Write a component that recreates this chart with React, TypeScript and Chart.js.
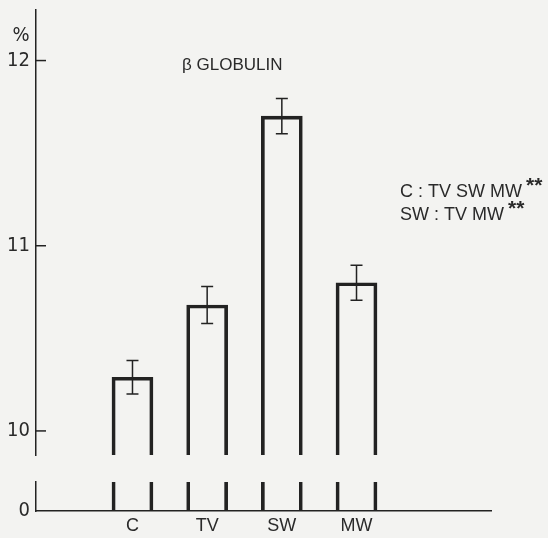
import React, { useEffect, useRef } from 'react';
import { Chart, registerables } from 'chart.js';

Chart.register(...registerables);

// ---- data ----
const CATEGORIES = ['C', 'TV', 'SW', 'MW'];
const MEANS = [10.29, 10.68, 11.7, 10.8];
const ERRORS = [0.09, 0.1, 0.095, 0.095];
const UPPER_TICKS = [10, 11, 12];
const LOWER_TICKS = [0];
const TITLE = 'β GLOBULIN';
const Y_UNIT = '%';
const NOTE_LINES = ['C : TV SW MW', 'SW : TV MW'];
const NOTE_MARKS = ['**', '**'];

// ---- scale ranges (broken axis) ----
const UPPER_MIN = 9.87;
const UPPER_MAX = 12.273;
const LOWER_MIN = 0;
const LOWER_MAX = 0.1566;
const X_MIN = -1.292;
const X_MAX = 4.801;

const INK = '#222222';
const TEXT = '#2a2a2a';
const BG = '#f3f3f1';
const NARROW = "'Liberation Sans Narrow', 'DejaVu Sans Condensed', 'Liberation Sans', sans-serif";
const SANS = "'Liberation Sans', Arial, sans-serif";

const errorBarPlugin = {
  id: 'errorBars',
  afterDatasetsDraw(chart: any) {
    const meta = chart.getDatasetMeta(0);
    const ys = chart.scales.yUp;
    const ctx = chart.ctx;
    ctx.save();
    ctx.strokeStyle = INK;
    ctx.lineWidth = 1.5;
    MEANS.forEach((m, i) => {
      const el = meta.data[i];
      if (!el) return;
      const x = el.x;
      const yt = ys.getPixelForValue(m + ERRORS[i]);
      const yb = ys.getPixelForValue(m - ERRORS[i]);
      ctx.beginPath();
      ctx.moveTo(x, yt);
      ctx.lineTo(x, yb);
      ctx.moveTo(x - 6, yt);
      ctx.lineTo(x + 6, yt);
      ctx.moveTo(x - 6, yb);
      ctx.lineTo(x + 6, yb);
      ctx.stroke();
    });
    ctx.restore();
  },
};

const decorPlugin = {
  id: 'decor',
  afterDraw(chart: any) {
    const ctx = chart.ctx;
    const ys = chart.scales.yUp;
    const left = chart.chartArea.left;
    ctx.save();
    // inward tick marks on the upper axis
    ctx.strokeStyle = INK;
    ctx.lineWidth = 1.5;
    UPPER_TICKS.forEach((t) => {
      const y = ys.getPixelForValue(t);
      ctx.beginPath();
      ctx.moveTo(left, y);
      ctx.lineTo(left + 10, y);
      ctx.stroke();
    });
    ctx.fillStyle = TEXT;
    // unit label
    ctx.font = `20px ${NARROW}`;
    ctx.textAlign = 'center';
    ctx.textBaseline = 'middle';
    ctx.fillText(Y_UNIT, 21, 36);
    // title
    ctx.font = `17px ${SANS}`;
    ctx.textAlign = 'left';
    ctx.textBaseline = 'alphabetic';
    ctx.fillText(TITLE, 182, 70);
    // significance notes
    NOTE_LINES.forEach((line, i) => {
      const y = 197 + i * 23;
      ctx.font = `18px ${SANS}`;
      ctx.textBaseline = 'alphabetic';
      ctx.fillText(line, 400, y);
      const w = ctx.measureText(line).width;
      ctx.font = `bold 21px ${SANS}`;
      ctx.fillText(NOTE_MARKS[i], 400 + w + 4, y - 5);
    });
    ctx.restore();
  },
};

export default function App() {
  const canvasRef = useRef<HTMLCanvasElement | null>(null);

  useEffect(() => {
    if (!canvasRef.current) return;
    const fixWidth = (s: any) => {
      s.width = 36;
      s.paddingTop = 0;
      s.paddingBottom = 0;
    };
    const chart = new Chart(canvasRef.current, {
      type: 'bar',
      data: {
        datasets: [
          {
            label: 'upper',
            data: CATEGORIES.map((_, i) => ({ x: i, y: [UPPER_MIN, MEANS[i]] })) as any,
            xAxisID: 'x',
            yAxisID: 'yUp',
            grouped: false,
            barThickness: 41,
            backgroundColor: 'rgba(0,0,0,0)',
            borderColor: INK,
            borderSkipped: false,
            borderWidth: { top: 3, left: 3, right: 3, bottom: 0 },
          } as any,
          {
            label: 'lower',
            data: CATEGORIES.map((_, i) => ({ x: i, y: Math.min(MEANS[i], LOWER_MAX) })) as any,
            xAxisID: 'x',
            yAxisID: 'yLow',
            grouped: false,
            barThickness: 41,
            backgroundColor: 'rgba(0,0,0,0)',
            borderColor: INK,
            borderSkipped: false,
            borderWidth: { top: 0, left: 3, right: 3, bottom: 0 },
          } as any,
        ],
      },
      options: {
        responsive: false,
        animation: false,
        devicePixelRatio: 1,
        layout: { padding: { top: 10, right: 57, bottom: 0, left: 0 } },
        plugins: {
          legend: { display: false },
          tooltip: { enabled: false },
          title: { display: false },
        },
        scales: {
          x: {
            type: 'linear',
            position: 'bottom',
            offset: false,
            min: X_MIN,
            max: X_MAX,
            afterBuildTicks: (s: any) => {
              s.ticks = CATEGORIES.map((_, i) => ({ value: i }));
            },
            afterFit: (s: any) => {
              s.height = 27;
              s.paddingLeft = 0;
              s.paddingRight = 0;
            },
            grid: { display: false, offset: false, tickLength: 0 },
            border: { display: true, color: INK, width: 1.5 },
            ticks: {
              autoSkip: false,
              maxRotation: 0,
              padding: 4,
              color: TEXT,
              font: { family: SANS, size: 18 },
              callback: (v: any) => CATEGORIES[v] ?? '',
            },
          },
          yUp: {
            type: 'linear',
            position: 'left',
            stack: 'ybroken',
            stackWeight: 445,
            weight: 3,
            min: UPPER_MIN,
            max: UPPER_MAX,
            afterBuildTicks: (s: any) => {
              s.ticks = UPPER_TICKS.map((v) => ({ value: v }));
            },
            afterFit: fixWidth,
            grid: { display: false, tickLength: 0 },
            border: { display: true, color: INK, width: 1.5 },
            ticks: {
              padding: 6,
              color: TEXT,
              font: { family: NARROW, size: 20 },
              callback: (v: any) => String(v),
            },
          },
          yGap: {
            type: 'linear',
            position: 'left',
            stack: 'ybroken',
            stackWeight: 27,
            weight: 2,
            min: 0,
            max: 1,
            afterFit: fixWidth,
            grid: { display: false, tickLength: 0 },
            border: { display: false },
            ticks: { display: false },
          },
          yLow: {
            type: 'linear',
            position: 'left',
            stack: 'ybroken',
            stackWeight: 29,
            weight: 1,
            min: LOWER_MIN,
            max: LOWER_MAX,
            afterBuildTicks: (s: any) => {
              s.ticks = LOWER_TICKS.map((v) => ({ value: v }));
            },
            afterFit: fixWidth,
            grid: { display: false, tickLength: 0 },
            border: { display: true, color: INK, width: 1.5 },
            ticks: {
              padding: 6,
              color: TEXT,
              font: { family: NARROW, size: 20 },
              callback: (v: any) => String(v),
            },
          },
        } as any,
      },
      plugins: [errorBarPlugin, decorPlugin],
    });
    return () => chart.destroy();
  }, []);

  return (
    <div style={{ position: 'absolute', left: 0, top: 0, width: 548, height: 538, background: BG }}>
      <canvas ref={canvasRef} width={548} height={538} style={{ display: 'block', width: 548, height: 538 }} />
    </div>
  );
}
